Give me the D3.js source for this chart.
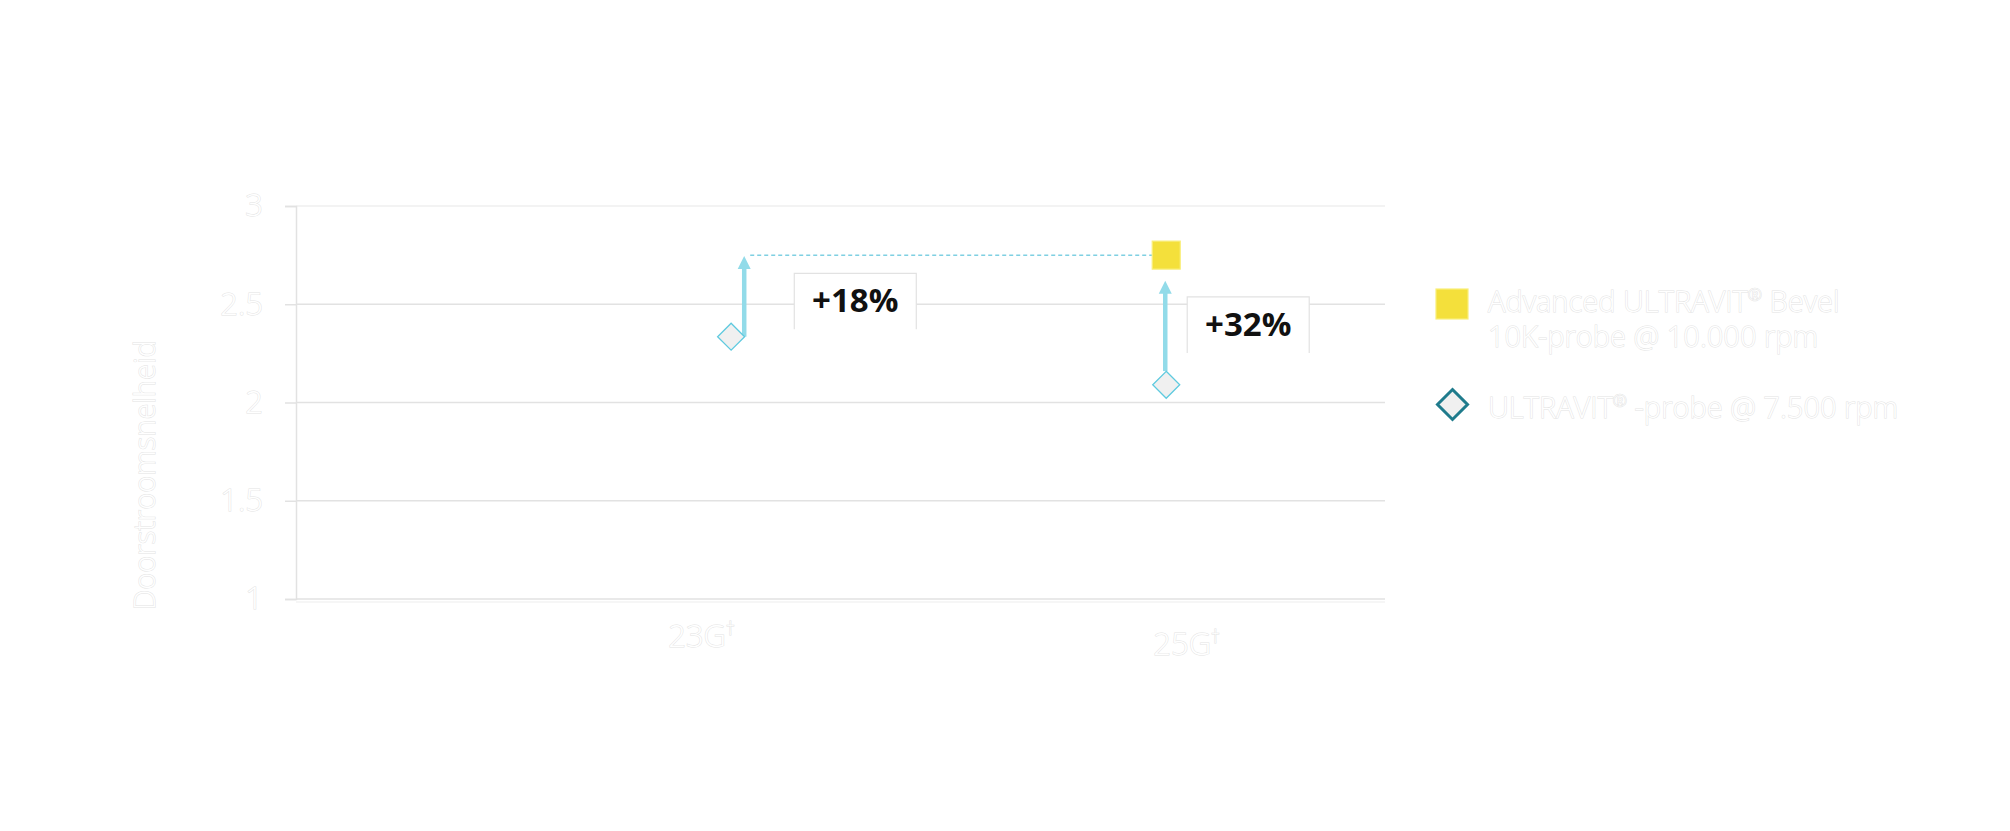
<!DOCTYPE html>
<html>
<head>
<meta charset="utf-8">
<script src="https://cdn.jsdelivr.net/npm/d3@7"></script>
<style>
  body { margin: 0; background: #fff; }
  svg { display: block; font-family: 'Open Sans', sans-serif; }
  .ghost { fill: #fff; stroke: #e3e3e3; stroke-width: 1; paint-order: stroke; }
</style>
</head>
<body>
<svg width="2010" height="831"></svg>
<script>
  'use strict';

  // categories on the x axis (placed at 0 and 1 on a linear scale)
  const categories = ['23G', '25G'];
  const categoryPos = [0, 1];
  const yTicks = [1, 1.5, 2, 2.5, 3];

  // series
  const standardProbe = [ {x: 0.062, y: 2.335}, {x: 0.959, y: 2.09} ];
  const advancedProbe = [ {x: 0.959, y: 2.75} ];

  // improvement arrows + labels
  const arrowX = [0.089, 0.957];
  const arrowFrom = [2.335, 2.16];
  const arrowTo = [2.745, 2.62];
  const labels = ['+18%', '+32%'];
  const labelX = [0.318, 1.128];
  const labelY = [2.515, 2.395];

  // legend lines, '®' is split out so it can be raised
  const legendItems = [
    [['Advanced ULTRAVIT', '®', ' Bevel'], ['10K-probe @ 10.000 rpm']],
    [['ULTRAVIT', '®', ' -probe @ 7.500 rpm']]
  ];

  const svg = d3.select('svg');
  const plotLeft = 296, plotRight = 1385, plotTop = 206, plotBottom = 599;

  const x = d3.scaleLinear().domain([-0.835, 1.41]).range([plotLeft, plotRight]);
  const y = d3.scaleLinear().domain([1, 3]).range([plotBottom, plotTop]);

  const blue = '#92dbe9';

  // gridlines
  svg.append('g')
    .selectAll('line').data(yTicks)
    .enter().append('line')
      .attr('x1', plotLeft).attr('x2', plotRight)
      .attr('y1', d => y(d)).attr('y2', d => y(d))
      .attr('stroke', d => d === 3 ? '#efefef' : '#e2e2e2')
      .attr('stroke-width', 1.5);
  svg.append('line')
    .attr('x1', plotLeft).attr('x2', plotRight)
    .attr('y1', y(1) + 3).attr('y2', y(1) + 3)
    .attr('stroke', '#f3f3f3').attr('stroke-width', 1.5);

  // y axis
  const yAxis = svg.append('g')
    .attr('transform', `translate(${plotLeft},0)`)
    .call(d3.axisLeft(y).tickValues(yTicks).tickSize(11).tickPadding(22).tickFormat(d3.format('')));
  yAxis.select('.domain').attr('stroke', '#e2e2e2').attr('stroke-width', 1.5);
  yAxis.selectAll('.tick line').attr('stroke', '#e2e2e2').attr('stroke-width', 1.5);
  yAxis.selectAll('.tick text')
    .attr('class', 'ghost')
    .attr('font-size', 31).attr('font-weight', 300)
    .attr('font-family', "'Open Sans', sans-serif");

  svg.append('text')
    .attr('class', 'ghost')
    .attr('transform', `translate(155,${y(1.63)}) rotate(-90)`)
    .attr('text-anchor', 'middle')
    .attr('font-size', 29).attr('font-weight', 300)
    .text('Doorstroomsnelheid');

  // x axis
  const xAxis = svg.append('g')
    .attr('transform', `translate(0,${plotBottom})`)
    .call(d3.axisBottom(x).tickValues(categoryPos).tickSize(0).tickPadding(26).tickFormat((d, i) => categories[i]));
  xAxis.select('.domain').remove();
  xAxis.selectAll('.tick text')
    .attr('class', 'ghost')
    .attr('font-size', 31).attr('font-weight', 300)
    .attr('font-family', "'Open Sans', sans-serif")
    .attr('dy', (d, i) => i === 0 ? '0.71em' : '0.98em')
    .append('tspan')
      .attr('font-size', 18).attr('dy', -12)
      .text('†');

  // dashed reference line from 23G arrow tip to the advanced point
  svg.append('line')
    .attr('x1', x(arrowX[0]) + 6).attr('x2', x(advancedProbe[0].x) - 14)
    .attr('y1', y(advancedProbe[0].y)).attr('y2', y(advancedProbe[0].y))
    .attr('stroke', '#7fd0e2').attr('stroke-width', 1.5)
    .attr('stroke-dasharray', '4,3');

  // label boxes
  const lab = svg.append('g').selectAll('g').data(labels)
    .enter().append('g')
      .attr('transform', (d, i) => `translate(${x(labelX[i])},${y(labelY[i])})`);
  lab.append('rect')
    .attr('x', -61).attr('y', -28).attr('width', 122).attr('height', 56)
    .attr('fill', '#fff');
  lab.append('path')
    .attr('d', 'M-61,28V-28H61V28')
    .attr('fill', 'none').attr('stroke', '#e2e2e2').attr('stroke-width', 1.2);
  lab.append('text')
    .attr('text-anchor', 'middle').attr('y', 11)
    .attr('font-size', 33).attr('font-weight', 700).attr('fill', '#111')
    .text(d => d);

  // arrows
  const arr = svg.append('g').selectAll('g').data(arrowX)
    .enter().append('g');
  arr.append('line')
    .attr('x1', d => x(d)).attr('x2', d => x(d))
    .attr('y1', (d, i) => y(arrowFrom[i])).attr('y2', (d, i) => y(arrowTo[i]) + 10)
    .attr('stroke', blue).attr('stroke-width', 4.5);
  arr.append('path')
    .attr('d', (d, i) => {
      const cx = x(d), ty = y(arrowTo[i]);
      return `M${cx},${ty}L${cx - 6.5},${ty + 13}L${cx + 6.5},${ty + 13}Z`;
    })
    .attr('fill', blue);

  // diamonds
  const diamond = s => `M0,${-s}L${s},0L0,${s}L${-s},0Z`;
  svg.append('g').selectAll('path').data(standardProbe)
    .enter().append('path')
      .attr('transform', d => `translate(${x(d.x)},${y(d.y)})`)
      .attr('d', diamond(13.5))
      .attr('fill', '#f0f0f0').attr('stroke', '#5fcadf').attr('stroke-width', 1.3);

  // squares
  svg.append('g').selectAll('rect').data(advancedProbe)
    .enter().append('rect')
      .attr('x', d => x(d.x) - 14).attr('y', d => y(d.y) - 14)
      .attr('width', 28).attr('height', 28)
      .attr('fill', '#f4e03b').attr('stroke', '#f9ee7a').attr('stroke-width', 1.2);

  // legend
  const lg = svg.append('g').attr('transform', 'translate(1436,0)');
  lg.append('rect')
    .attr('x', 0).attr('y', 289).attr('width', 32).attr('height', 30)
    .attr('fill', '#f4e03b').attr('stroke', '#f9ee7a').attr('stroke-width', 1.2);
  lg.append('path')
    .attr('transform', 'translate(16.5,404.5)')
    .attr('d', diamond(15))
    .attr('fill', '#f0f0f0').attr('stroke', '#1f7b8c').attr('stroke-width', 3);

  const itemY = [312, 418];
  lg.selectAll('g.item').data(legendItems)
    .enter().append('g').attr('class', 'item')
    .each(function (lines, i) {
      const g = d3.select(this);
      lines.forEach((parts, j) => {
        const t = g.append('text')
          .attr('class', 'ghost')
          .attr('x', 52).attr('y', itemY[i] + j * 35)
          .attr('font-size', 29).attr('font-weight', 300);
        let shift = 0;
        parts.forEach(p => {
          if (p === '®') {
            t.append('tspan').attr('font-size', 17).attr('dy', -11).text(p);
            shift = 11;
          } else {
            t.append('tspan').attr('dy', shift).text(p);
            shift = 0;
          }
        });
      });
    });
</script>
</body>
</html>
